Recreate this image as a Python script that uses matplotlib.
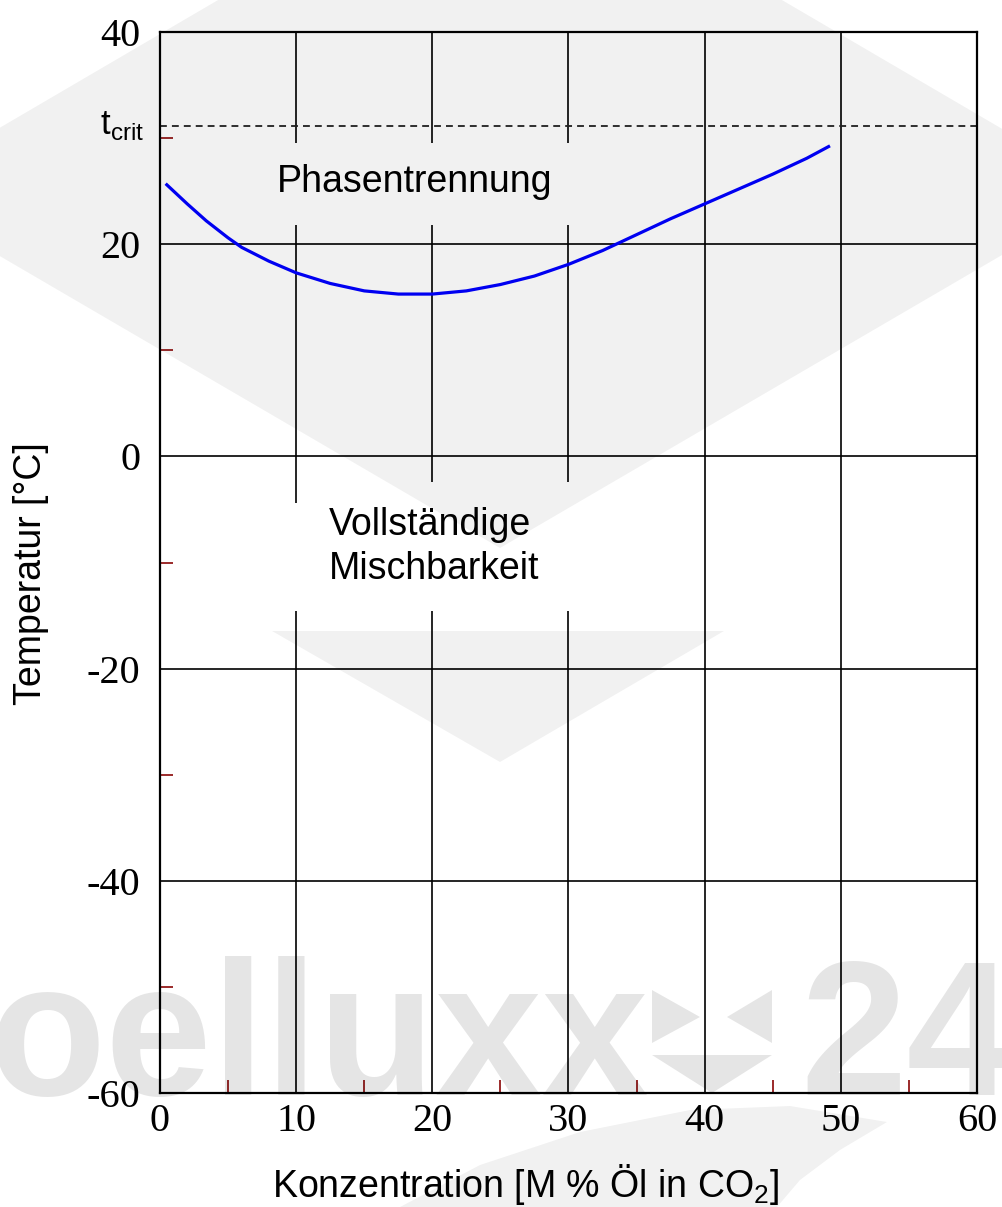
import matplotlib
matplotlib.use("Agg")
import matplotlib.pyplot as plt
from matplotlib.patches import Polygon, Rectangle
from matplotlib.transforms import Affine2D

# data
conc = [0.5, 2, 3.4, 5, 6, 8, 10, 12.5, 15, 17.5, 20, 22.5, 25, 27.5, 30,
        32.5, 35, 37.5, 40, 42.5, 45, 47.5, 49.1]
temp = [25.6, 23.8, 22.2, 20.6, 19.7, 18.4, 17.3, 16.3, 15.6, 15.3, 15.3, 15.6,
        16.2, 17.0, 18.1, 19.4, 20.9, 22.4, 23.8, 25.2, 26.6, 28.1, 29.2]
t_crit = 31.1

x_ticks = [0, 10, 20, 30, 40, 50, 60]
y_ticks = [-60, -40, -20, 0, 20, 40]
x_minor = [5, 15, 25, 35, 45, 55]
y_minor = [-50, -30, -10, 10, 30]

plt.rcParams["font.family"] = ["Liberation Sans", "DejaVu Sans"]
plt.rcParams["axes.unicode_minus"] = False

W, H = 1003, 1207
fig = plt.figure(figsize=(W / 100, H / 100), dpi=100)
ax = fig.add_axes([160 / W, 1 - 1093 / H, 817 / W, 1061 / H])
# pixel coordinates (y down) for the watermark / free labels
px = Affine2D().scale(1 / W, -1 / H).translate(0, 1) + fig.transFigure

ax.set_xlim(0, 60)
ax.set_ylim(-60, 40)
ax.set_xticks(x_ticks)
ax.set_yticks(y_ticks)
ax.set_xticks(x_minor, minor=True)
ax.set_yticks(y_minor, minor=True)
ax.tick_params(which="major", length=0, labelsize=29, pad=7)
ax.tick_params(axis="y", which="major", pad=14)
ax.tick_params(which="minor", direction="in", length=9.5, width=1.4,
               color="#9b2a2a")
for lab in ax.get_xticklabels() + ax.get_yticklabels():
    lab.set_fontfamily("Liberation Serif")

ax.set_axisbelow(True)
ax.grid(True, which="major", color="black", lw=1.2)
for sp in ax.spines.values():
    sp.set_linewidth(1.6)

# blank areas behind the region labels (grid is broken there)
for x0, x1, y0, y1 in [(8.8, 31.6, 21.8, 29.5), (9.2, 31.6, -14.6, -4.35),
                       (17.6, 31.6, -4.4, -2.37)]:
    ax.add_patch(Rectangle((x0, y0), x1 - x0, y1 - y0, facecolor="white",
                           edgecolor="none", zorder=1))

ax.axhline(t_crit, color="#222222", lw=1.3, ls=(0, (3.8, 2.8)), zorder=2)
ax.plot(conc, temp, color="#0000ff", lw=2.3, zorder=3)

ax.annotate("t$_\\mathregular{crit}$", xy=(0, t_crit),
            xycoords=("axes fraction", "data"), xytext=(-43, -5.5),
            textcoords="offset points", ha="left", va="baseline", fontsize=25)

ax.text(8.6, 24.9, "Phasentrennung", fontsize=27, ha="left", va="baseline",
        zorder=4)
ax.text(12.4, -7.4, "Vollständige", fontsize=27, ha="left", va="baseline",
        zorder=4)
ax.text(12.4, -11.55, "Mischbarkeit", fontsize=27, ha="left", va="baseline",
        zorder=4)

fig.text(526, 1197, "Konzentration [M % Öl in CO$_\\mathregular{2}$]",
         transform=px, fontsize=27, ha="center", va="baseline")
fig.text(31, 574, "Temperatur [°C]", transform=px, fontsize=27,
         rotation=90, ha="center", va="center")

# watermark
light = dict(facecolor="black", alpha=0.055, lw=0, zorder=10, transform=px)
fig.add_artist(Polygon([(500, -165), (-110, 192), (500, 548), (1110, 192)],
                       **light))
fig.add_artist(Polygon([(272, 631), (724, 631), (500, 762)], **light))
fig.add_artist(Polygon([(400, 1207), (480, 1165), (580, 1132), (690, 1110),
                        (790, 1106), (887, 1122), (840, 1150), (800, 1180),
                        (777, 1207)], **light))
dark = dict(facecolor="black", alpha=0.1, lw=0, zorder=10, transform=px)
fig.add_artist(Polygon([(652, 990), (652, 1043), (700, 1017)], **dark))
fig.add_artist(Polygon([(772, 990), (772, 1043), (727, 1017)], **dark))
fig.add_artist(Polygon([(652, 1055), (772, 1055), (712, 1093)], **dark))
fig.text(-12, 1095, "oelluxx", transform=px, fontsize=138, fontweight="bold",
         color="black", alpha=0.1, zorder=10, ha="left", va="baseline")
fig.text(800, 1095, "24", transform=px, fontsize=138, fontweight="bold",
         color="black", alpha=0.1, zorder=10, ha="left", va="baseline")

fig.savefig("out.png", dpi=100)
